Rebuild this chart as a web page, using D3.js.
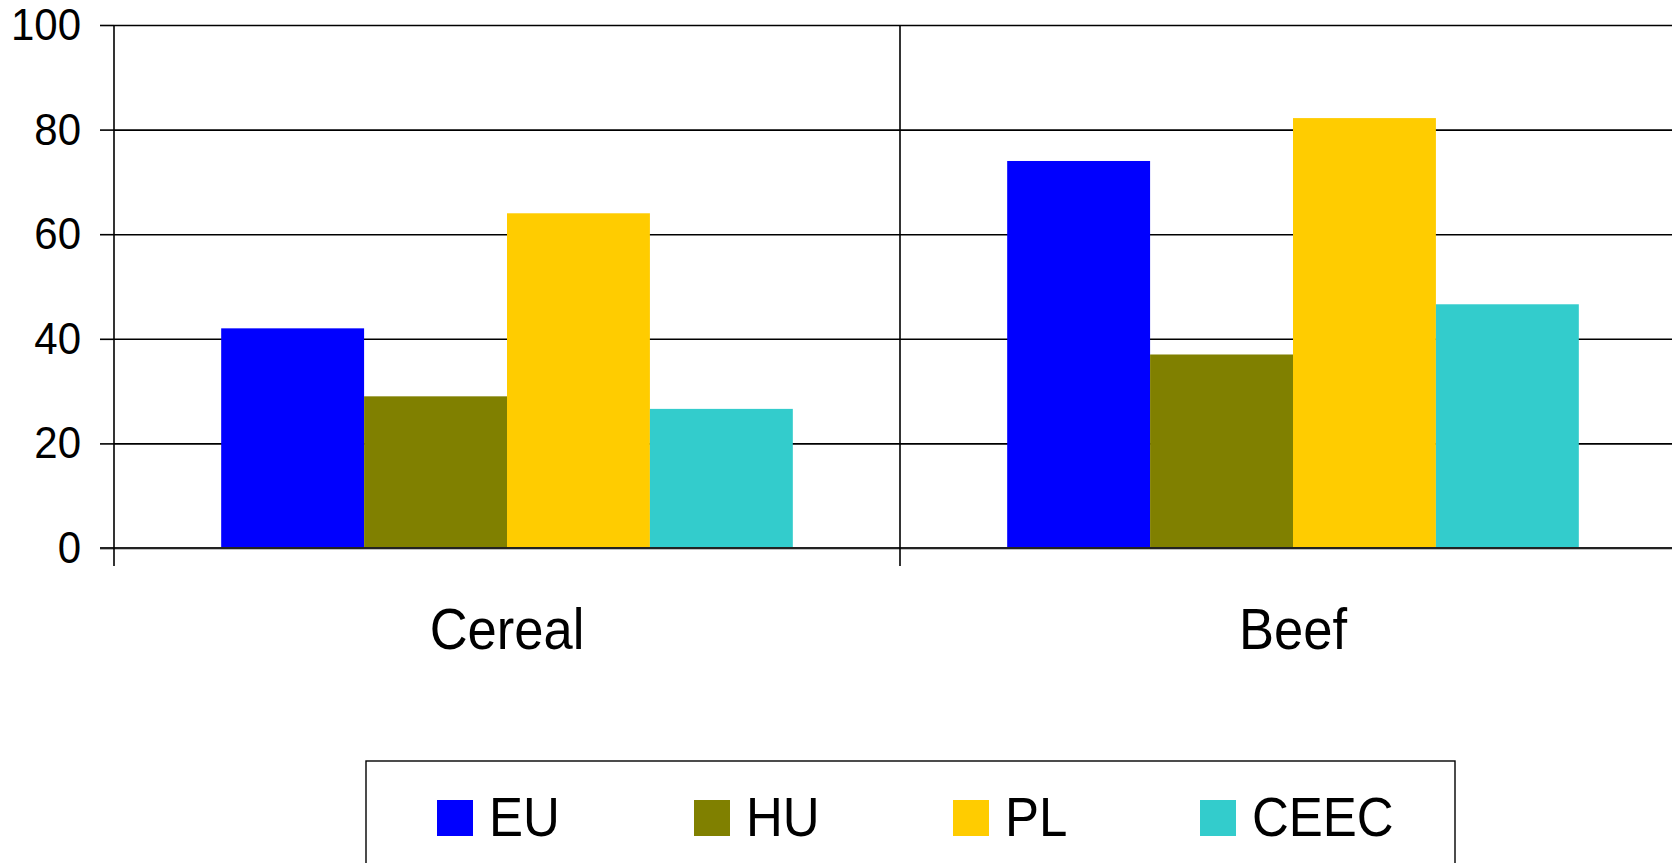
<!DOCTYPE html>
<html>
<head>
<meta charset="utf-8">
<script src="https://cdn.jsdelivr.net/npm/d3@7"></script>
<style>
  body { margin: 0; background: #fff; overflow: hidden; }
  text { font-family: "Liberation Sans", Arial, sans-serif; fill: #000; }
</style>
</head>
<body>
<div id="chart_container"></div>
<script>
// data
var categories = ["Cereal", "Beef"];
var seriesNames = ["EU", "HU", "PL", "CEEC"];
var seriesColors = ["#0000ff", "#808000", "#ffcc00", "#33cccc"];
var cerealValues = [42, 29, 64, 26.6];
var beefValues = [74, 37, 82.2, 46.6];
var yTicks = [0, 20, 40, 60, 80, 100];

var W = 1672, H = 863;
var margin = {top: 25, left: 114, bottom: 548};

var svg = d3.select("#chart_container")
  .append("svg")
    .attr("width", W)
    .attr("height", H);

var rows = categories.map(function(c, i) {
  return {cat: c, values: [cerealValues, beefValues][i]};
});

// category bands run past the right edge, like the original
var x0 = d3.scaleBand().domain(categories).range([margin.left, 1686]).padding(0);
var x1 = d3.scaleBand().domain(seriesNames).range([0, x0.bandwidth()])
  .paddingInner(0).paddingOuter(0.75);
var y = d3.scaleLinear().domain([0, 100]).range([margin.bottom, margin.top]);

// gridlines + ticks
var grid = svg.append("g")
  .attr("transform", "translate(" + margin.left + ",0)")
  .call(d3.axisLeft(y).tickValues(yTicks).tickSize(14).tickFormat(""));
grid.select(".domain").remove();
grid.selectAll(".tick line").attr("stroke", "#000").attr("stroke-width", 1.6);
grid.selectAll(".tick").append("line")
  .attr("x1", 0).attr("x2", W)
  .attr("stroke", "#000").attr("stroke-width", 1.6);

// tick labels
svg.append("g").selectAll("text")
  .data(yTicks)
  .enter().append("text")
    .attr("text-anchor", "end")
    .attr("transform", function(d) { return "translate(81," + (y(d) + 15) + ") scale(1,1.04)"; })
    .style("font-size", "42px")
    .text(function(d) { return d; });

// bars
var groups = svg.selectAll(".grp")
  .data(rows)
  .enter().append("g")
    .attr("class", "grp")
    .attr("transform", function(r) { return "translate(" + x0(r.cat) + ",0)"; });

groups.selectAll("rect")
  .data(function(r) { return r.values.map(function(v, i) { return {name: seriesNames[i], v: v, c: seriesColors[i]}; }); })
  .enter().append("rect")
    .attr("x", function(d) { return x1(d.name); })
    .attr("y", function(d) { return y(d.v); })
    .attr("width", x1.bandwidth())
    .attr("height", function(d) { return y(0) - y(d.v); })
    .attr("fill", function(d) { return d.c; });

// zero line over bars
svg.append("line")
  .attr("x1", margin.left - 14).attr("x2", W)
  .attr("y1", y(0)).attr("y2", y(0))
  .attr("stroke", "#222").attr("stroke-width", 1.8);

// y axis and category dividers
var dividers = [margin.left].concat(categories.slice(1).map(function(c) { return x0(c); }));
svg.selectAll(".div")
  .data(dividers)
  .enter().append("line")
    .attr("x1", function(d) { return d; }).attr("x2", function(d) { return d; })
    .attr("y1", y(100)).attr("y2", y(0) + 18)
    .attr("stroke", "#000").attr("stroke-width", 1.6);

// category labels
svg.selectAll(".cat")
  .data(categories)
  .enter().append("text")
    .attr("text-anchor", "middle")
    .attr("transform", function(c) {
      return "translate(" + (x0(c) + x0.bandwidth() / 2) + ",649) scale(1,1.08)";
    })
    .style("font-size", "52.5px")
    .text(function(c) { return c; });

// legend
svg.append("rect")
  .attr("x", 366).attr("y", 761)
  .attr("width", 1089).attr("height", 140)
  .attr("fill", "none").attr("stroke", "#000").attr("stroke-width", 1.4);

var legX = [437, 694, 953, 1200];
var leg = svg.selectAll(".leg")
  .data(seriesNames)
  .enter().append("g")
    .attr("transform", function(d, i) { return "translate(" + legX[i] + ",800)"; });
leg.append("rect")
  .attr("width", 36).attr("height", 36)
  .attr("fill", function(d, i) { return seriesColors[i]; });
leg.append("text")
  .attr("transform", "translate(52,36) scale(1,1.08)")
  .style("font-size", "51px")
  .text(function(d) { return d; });
</script>
</body>
</html>
